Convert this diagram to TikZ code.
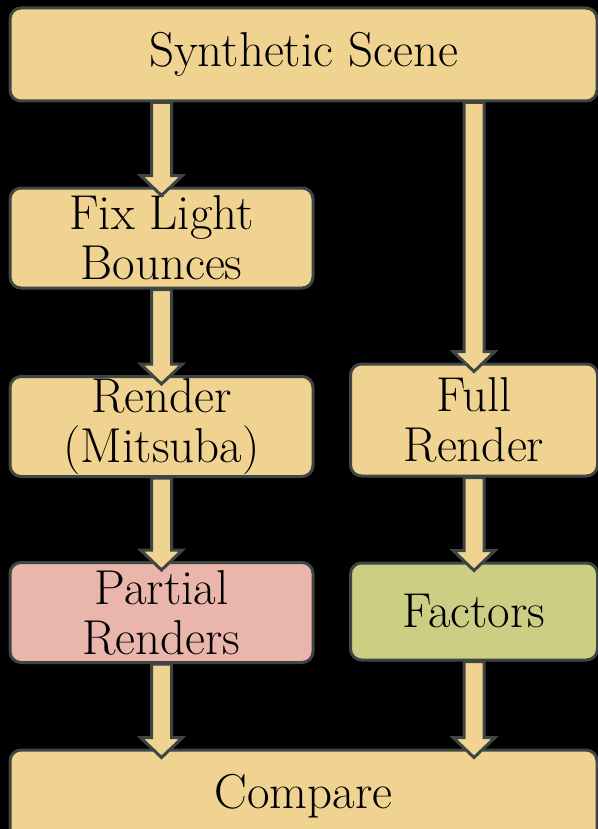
\documentclass[tikz,border=0pt]{standalone}
\usetikzlibrary{calc}
\definecolor{boxgold}{RGB}{240,211,145}
\definecolor{boxpink}{RGB}{234,182,172}
\definecolor{boxgreen}{RGB}{203,206,131}
\definecolor{boxedge}{RGB}{62,70,68}
\tikzset{
  stepbox/.style={rectangle, rounded corners=5.5pt, draw=boxedge, fill=boxgold,
                  line width=1.5pt, inner sep=0pt, align=center,
                  font=\fontsize{24.5}{25}\selectfont},
  widebox/.style={stepbox, minimum width=293.5pt, minimum height=46.5pt},
  leftbox/.style={stepbox, minimum width=151.5pt, minimum height=50pt},
  rightbox/.style={stepbox, minimum width=123.5pt},
  flowarrow/.style={draw=boxedge, fill=boxgold, line width=1.5pt, line join=miter},
}
% block arrow from a tail point down to the box it points into
\newcommand{\blockarrow}[2]{%
  \filldraw[flowarrow] let \p1=(#1), \p2=(#2) in
    (\x1-5pt,\y1) -- (\x1-5pt,\y2+5.5pt) -- (\x1-10.5pt,\y2+5.5pt)
    -- (\x1,\y2-4.5pt) -- (\x1+10.5pt,\y2+5.5pt) -- (\x1+5pt,\y2+5.5pt)
    -- (\x1+5pt,\y1) -- cycle;}

\begin{document}
\begin{tikzpicture}[x=0.5pt, y=-0.5pt]
\fill[black] (0,0) rectangle (598,829);
\useasboundingbox (0,0) rectangle (598,829);
% boxes
\node[widebox] (scene) at (303.5,54.5) {Synthetic Scene};
\node[leftbox] (fix) at (161.5,238) {Fix Light\\Bounces};
\node[leftbox] (render) at (161.5,426.5) {Render\\(Mitsuba)};
\node[rightbox, minimum height=56pt] (full) at (474,420) {Full\\Render};
\node[leftbox, fill=boxpink] (partial) at (161.5,612.5) {Partial\\Renders};
\node[rightbox, minimum height=48.5pt, fill=boxgreen] (factors) at (474,611.5) {Factors};
\node[widebox] (compare) at (303.5,796.5) {Compare};
% arrows
\blockarrow{scene.south -| fix}{fix.north}
\blockarrow{fix.south}{render.north}
\blockarrow{render.south}{partial.north}
\blockarrow{partial.south}{compare.north -| partial}
\blockarrow{scene.south -| full}{full.north}
\blockarrow{full.south}{factors.north}
\blockarrow{factors.south}{compare.north -| factors}
\end{tikzpicture}
\end{document}
